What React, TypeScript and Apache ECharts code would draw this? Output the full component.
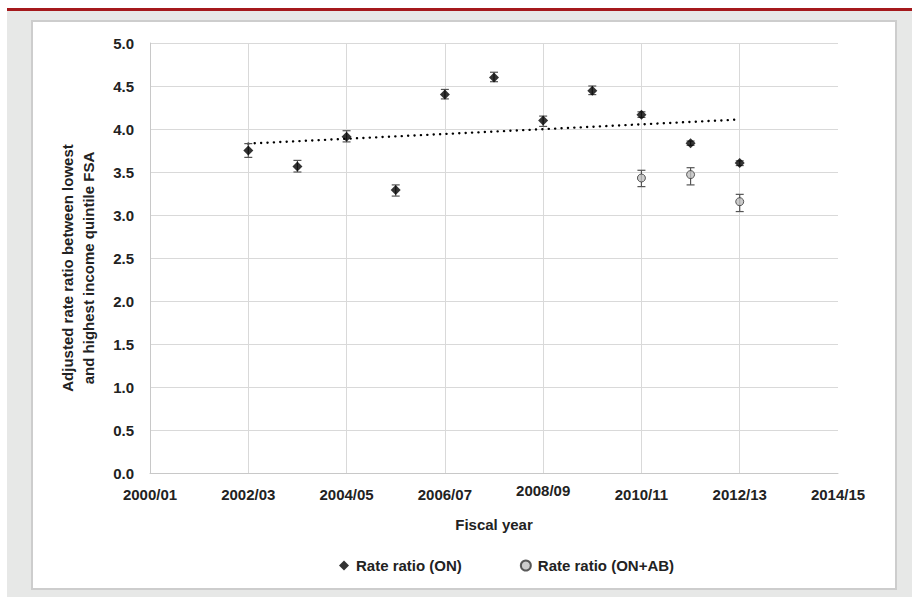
import React, { useEffect, useRef } from "react";
import * as echarts from "echarts";

// ---- Data ----
const xTickValues = [2000, 2002, 2004, 2006, 2008, 2010, 2012, 2014];
const xTickLabels = ["2000/01", "2002/03", "2004/05", "2006/07", "2008/09", "2010/11", "2012/13", "2014/15"];

const onYears = [2002, 2003, 2004, 2005, 2006, 2007, 2008, 2009, 2010, 2011, 2012];
const onValues = [3.75, 3.565, 3.91, 3.29, 4.40, 4.60, 4.10, 4.445, 4.165, 3.835, 3.605];
const onLow = [3.67, 3.50, 3.85, 3.22, 4.35, 4.55, 4.03, 4.40, 4.135, 3.81, 3.575];
const onHigh = [3.83, 3.635, 3.98, 3.35, 4.46, 4.66, 4.15, 4.50, 4.20, 3.86, 3.63];

const abYears = [2010, 2011, 2012];
const abValues = [3.43, 3.47, 3.155];
const abLow = [3.33, 3.35, 3.04];
const abHigh = [3.52, 3.55, 3.24];

const trendYears = [2002, 2012];
const trendValues = [3.83, 4.11];

const FONT = "'Liberation Sans', Arial, sans-serif";

export default function App() {
  const ref = useRef<HTMLDivElement>(null);

  useEffect(() => {
    document.body.style.margin = "0";
    if (!ref.current) return;
    const chart = echarts.init(ref.current, null, { renderer: "svg" });

    const errRender = (params: any, api: any) => {
      const x = api.value(0);
      const lo = api.coord([x, api.value(1)]);
      const hi = api.coord([x, api.value(2)]);
      const cap = 4;
      const style = { stroke: "#555555", lineWidth: 1.2 };
      return {
        type: "group",
        children: [
          { type: "line", shape: { x1: lo[0], y1: lo[1], x2: hi[0], y2: hi[1] }, style },
          { type: "line", shape: { x1: lo[0] - cap, y1: lo[1], x2: lo[0] + cap, y2: lo[1] }, style },
          { type: "line", shape: { x1: hi[0] - cap, y1: hi[1], x2: hi[0] + cap, y2: hi[1] }, style },
        ],
      };
    };

    const option: any = {
      animation: false,
      backgroundColor: "#ffffff",
      graphic: [
        { type: "rect", z: -10, shape: { x: 7, y: 11, width: 905, height: 586 }, style: { fill: "#e7e8e7" } },
        { type: "rect", z: -10, shape: { x: 7, y: 8, width: 905, height: 3 }, style: { fill: "#a5191c" } },
        { type: "rect", z: -9, shape: { x: 32, y: 21, width: 864, height: 568 }, style: { fill: "#ffffff", stroke: "#cdcdcd", lineWidth: 2 } },
        {
          type: "text",
          x: 78,
          y: 268,
          rotation: Math.PI / 2,
          style: {
            text: "Adjusted rate ratio between lowest\nand highest income quintile FSA",
            font: `bold 15px ${FONT}`,
            fill: "#222222",
            align: "center",
            verticalAlign: "middle",
            lineHeight: 21,
          },
        },
      ],
      grid: { left: 150, top: 43, width: 688, height: 430, containLabel: false },
      legend: {
        data: [
          { name: "Rate ratio (ON)", icon: "diamond" },
          { name: "Rate ratio (ON+AB)", icon: "circle" },
        ],
        left: 334,
        top: 553,
        itemWidth: 10,
        itemHeight: 10,
        itemGap: 58,
        textStyle: { fontFamily: FONT, fontWeight: "bold", fontSize: 15, color: "#222222", padding: [0, 0, 0, 2] },
      },
      xAxis: {
        type: "value",
        min: 2000,
        max: 2014,
        interval: 2,
        name: "Fiscal year",
        nameLocation: "middle",
        nameGap: 44,
        nameTextStyle: { fontFamily: FONT, fontWeight: "bold", fontSize: 15, color: "#222222" },
        axisLine: { show: true, lineStyle: { color: "#c8c8c8", width: 1 } },
        axisTick: { show: false },
        axisLabel: {
          margin: 10,
          fontFamily: FONT,
          fontWeight: "bold",
          fontSize: 15,
          color: "#222222",
          formatter: (v: number) => {
            const label = xTickLabels[xTickValues.indexOf(v)] ?? "";
            return v === 2008 ? `{u|${label}}` : `{n|${label}}`;
          },
          rich: {
            n: { fontFamily: FONT, fontWeight: "bold", fontSize: 15, color: "#222222", padding: [4, 0, 0, 0] },
            u: { fontFamily: FONT, fontWeight: "bold", fontSize: 15, color: "#222222", padding: [0, 0, 4, 0] },
          },
        },
        splitLine: { show: true, showMaxLine: false, lineStyle: { color: "#d9d9d9", width: 1 } },
      },
      yAxis: {
        type: "value",
        min: 0,
        max: 5,
        interval: 0.5,
        axisLine: { show: true, lineStyle: { color: "#c8c8c8", width: 1 } },
        axisTick: { show: false },
        axisLabel: {
          margin: 16,
          fontFamily: FONT,
          fontWeight: "bold",
          fontSize: 15,
          color: "#222222",
          formatter: (v: number) => v.toFixed(1),
        },
        splitLine: { show: true, lineStyle: { color: "#d9d9d9", width: 1 } },
      },
      series: [
        {
          name: "trend",
          type: "line",
          data: trendYears.map((y, i) => [y, trendValues[i]]),
          symbol: "none",
          lineStyle: { color: "#000000", width: 2.4, type: [0.1, 6.3], cap: "round" },
          z: 3,
        },
        {
          name: "errON",
          type: "custom",
          renderItem: errRender,
          data: onYears.map((y, i) => [y, onLow[i], onHigh[i]]),
          z: 4,
        },
        {
          name: "errAB",
          type: "custom",
          renderItem: errRender,
          data: abYears.map((y, i) => [y, abLow[i], abHigh[i]]),
          z: 4,
        },
        {
          name: "Rate ratio (ON)",
          type: "scatter",
          symbol: "diamond",
          symbolSize: 10,
          itemStyle: { color: "#000000" },
          data: onYears.map((y, i) => [y, onValues[i]]),
          z: 5,
        },
        {
          name: "Rate ratio (ON+AB)",
          type: "scatter",
          symbol: "circle",
          symbolSize: 8,
          itemStyle: { color: "#bfbfbf", borderColor: "#333333", borderWidth: 1 },
          data: abYears.map((y, i) => [y, abValues[i]]),
          z: 5,
        },
      ],
    };

    chart.setOption(option);
    return () => chart.dispose();
  }, []);

  return <div ref={ref} style={{ width: 912, height: 597 }} />;
}
